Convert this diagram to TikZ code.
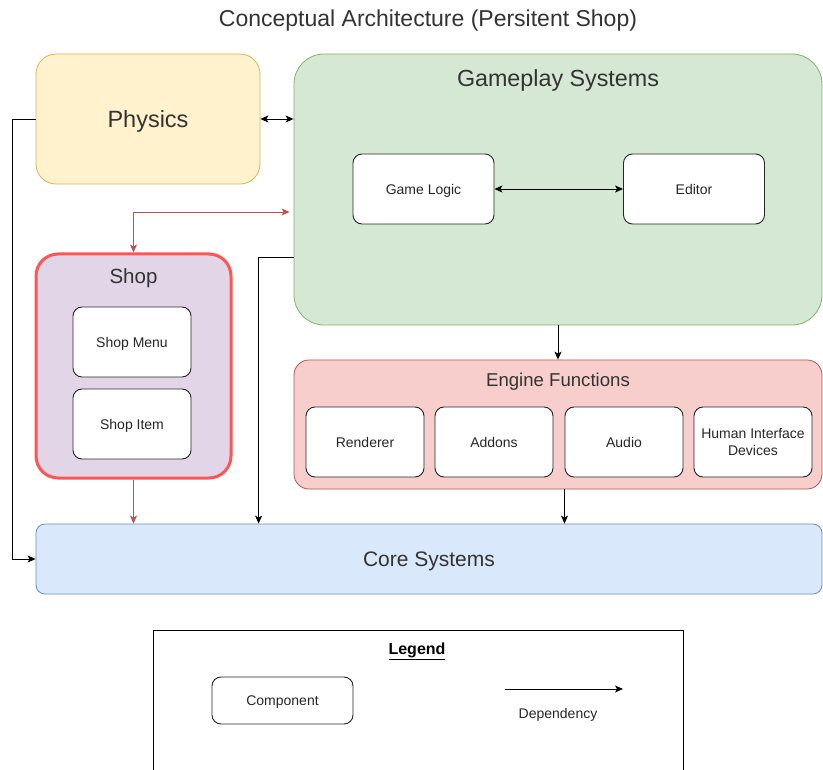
\documentclass[tikz,border=0pt]{standalone}
\usepackage{fontspec}
\setmainfont{Liberation Sans}
\usetikzlibrary{arrows.meta,calc}
\definecolor{physfill}{HTML}{FFF2CC}\definecolor{physdraw}{HTML}{D6B656}
\definecolor{gamefill}{HTML}{D5E8D4}\definecolor{gamedraw}{HTML}{82B366}
\definecolor{shopfill}{HTML}{E1D5E7}\definecolor{shopdraw}{HTML}{FF5555}
\definecolor{engfill}{HTML}{F8CECC}\definecolor{engdraw}{HTML}{B85450}
\definecolor{corefill}{HTML}{DAE8FC}\definecolor{coredraw}{HTML}{6C8EBF}
\definecolor{txt}{HTML}{333333}
\tikzset{
  fs/.style={font=\fontsize{#1}{17}\selectfont, text depth=0pt},
  box/.style n args={2}{draw, rectangle, inner sep=0pt, minimum width=#1, minimum height=#2},
  comp/.style={box={118pt}{70pt}, fill=white, draw=black!85, line width=0.9pt,
    rounded corners=9pt, fs=14, text=black!85, align=center},
  dep/.style={-{Stealth[length=8pt,width=7pt,inset=2pt]}, line width=0.9pt, black},
  bidep/.style={{Stealth[length=8pt,width=7pt,inset=2pt]}-{Stealth[length=8pt,width=7pt,inset=2pt]}, line width=0.9pt, black},
  reddep/.style={{Stealth[length=8pt,width=7pt,inset=2pt]}-{Stealth[length=8pt,width=7pt,inset=2pt]}, line width=0.9pt, engdraw},
}
\begin{document}
\begin{tikzpicture}[x=1pt,y=-1pt]
\useasboundingbox (0,0) rectangle (823,770);
\fill[white] (0,0) rectangle (823,770);

% title
\node[fs=23, text=txt] (title) at (428,18) {Conceptual Architecture (Persitent Shop)};

% top-level components
\node[box={224pt}{130pt}, fill=physfill, draw=physdraw, rounded corners=20pt, line width=0.8pt,
  fs=23.5, text=txt] (physics) at (148,119) {Physics};
\node[box={528pt}{271pt}, fill=gamefill, draw=gamedraw, rounded corners=30pt, line width=0.8pt] (gameplay) at (558,189.5) {};
\node[fs=23.3, text=txt] (gametitle) at (558,78) {Gameplay Systems};
\node[comp, minimum width=141pt] (logic) at (423.5,189) {Game Logic};
\node[comp, minimum width=141pt] (editor) at (694,189) {Editor};

\node[box={195pt}{224pt}, fill=shopfill, draw=shopdraw, rounded corners=22pt, line width=3pt] (shop) at (133.5,366) {};
\node[fs=20.5, text=txt] (shoptitle) at (133.5,276) {Shop};
\node[comp] (shopmenu) at (132,342) {Shop Menu};
\node[comp] (shopitem) at (132,424) {Shop Item};

\node[box={528pt}{129pt}, fill=engfill, draw=engdraw, rounded corners=15pt, line width=0.8pt] (engine) at (558,424.5) {};
\node[fs=18.6, text=txt] (engtitle) at (558,380) {Engine Functions};
\node[comp] (renderer) at (365,442) {Renderer};
\node[comp] (addons) at (494,442) {Addons};
\node[comp] (audio) at (624,442) {Audio};
\node[comp, text depth=] (hid) at (753,442) {Human Interface\\Devices};

\node[box={786pt}{70pt}, fill=corefill, draw=coredraw, rounded corners=9pt, line width=0.8pt,
  fs=21, text=txt] (core) at (429,559) {Core Systems};

% dependencies
\draw[bidep] (physics.east) -- (physics.east -| gameplay.west);
\draw[bidep] (logic) -- (editor);
\draw[dep] (physics.west) -- ++(-23,0) |- (core.west);
\draw[reddep] (shop.north) |- ($(gameplay.west)+(-4,22.5)$);
\draw[dep, engdraw] (shop.south) -- (shop.south |- core.north);
\draw[dep] ($(gameplay.west)+(0,67.5)$) -| ($(core.north west)+(223,0)$);
\draw[dep] (gameplay.south) -- (engine.north);
\coordinate (engout) at ($(engine.south)+(6.5,0)$);
\draw[dep] (engout) -- (engout |- core.north);

% legend
\begin{scope}
\clip (0,0) rectangle (823,770);
\node[box={530pt}{160pt}, draw=black, line width=0.9pt, anchor=north west] (legend) at (153,630) {};
\end{scope}
\node[font=\bfseries\fontsize{16}{16}\selectfont, text depth=0pt] (legtitle) at (417,649) {\underline{Legend}};
\node[comp, minimum width=141pt, minimum height=47pt] (legcomp) at (282.5,700.5) {Component};
\coordinate (depa) at (505,689);
\coordinate (depb) at (623,689);
\draw[dep] (depa) -- (depb);
\node[fs=14, text=black!85] (deplabel) at (558,713) {Dependency};
\end{tikzpicture}
\end{document}
